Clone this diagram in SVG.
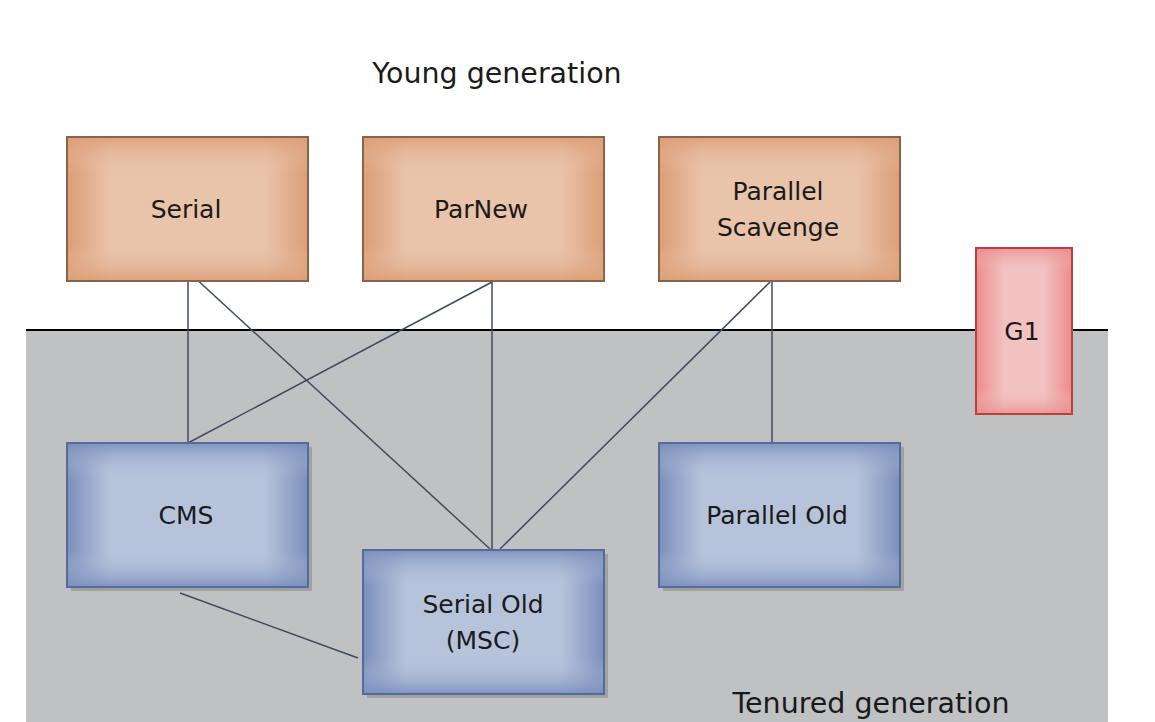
<svg xmlns="http://www.w3.org/2000/svg" width="1155" height="722" viewBox="0 0 1155 722">
<defs>
<linearGradient id="oh" x1="0" y1="0" x2="1" y2="0"><stop offset="0" stop-color="#dc9d76"/><stop offset="0.18" stop-color="#e9c3aa"/><stop offset="0.82" stop-color="#e9c3aa"/><stop offset="1" stop-color="#dc9d76"/></linearGradient>
<linearGradient id="ov" x1="0" y1="0" x2="0" y2="1"><stop offset="0" stop-color="#dc9d76" stop-opacity="0.9"/><stop offset="0.25" stop-color="#e9c3aa" stop-opacity="0"/><stop offset="0.75" stop-color="#e9c3aa" stop-opacity="0"/><stop offset="1" stop-color="#dc9d76" stop-opacity="0.9"/></linearGradient>
<linearGradient id="bh" x1="0" y1="0" x2="1" y2="0"><stop offset="0" stop-color="#7b8fbc"/><stop offset="0.18" stop-color="#b6c3db"/><stop offset="0.82" stop-color="#b6c3db"/><stop offset="1" stop-color="#7b8fbc"/></linearGradient>
<linearGradient id="bv" x1="0" y1="0" x2="0" y2="1"><stop offset="0" stop-color="#7b8fbc" stop-opacity="0.9"/><stop offset="0.25" stop-color="#b6c3db" stop-opacity="0"/><stop offset="0.75" stop-color="#b6c3db" stop-opacity="0"/><stop offset="1" stop-color="#7b8fbc" stop-opacity="0.9"/></linearGradient>
<linearGradient id="rh" x1="0" y1="0" x2="1" y2="0"><stop offset="0" stop-color="#ec8b8b"/><stop offset="0.3" stop-color="#f2c2c2"/><stop offset="0.7" stop-color="#f2c2c2"/><stop offset="1" stop-color="#ec8b8b"/></linearGradient>
<linearGradient id="rv" x1="0" y1="0" x2="0" y2="1"><stop offset="0" stop-color="#ec8b8b" stop-opacity="0.8"/><stop offset="0.15" stop-color="#f2c2c2" stop-opacity="0"/><stop offset="0.85" stop-color="#f2c2c2" stop-opacity="0"/><stop offset="1" stop-color="#ec8b8b" stop-opacity="0.8"/></linearGradient>
</defs>
<style>
.t{font-family:"DejaVu Sans","Liberation Sans",sans-serif;fill:#1a1a1a;text-anchor:middle}
.n{font-size:25px}
.h{font-size:28.5px}
.ob{stroke:#8a6448;stroke-width:2}
.bb{stroke:#566b97;stroke-width:2}
.rb{stroke:#b8403e;stroke-width:2}
.sh{fill:#8a8c90;opacity:0.6}
.c line{stroke:#3f4a60;stroke-width:1.5}
</style>
<rect x="0" y="0" width="1155" height="722" fill="#ffffff"/>
<rect x="26" y="330" width="1082" height="392" fill="#c0c1c3"/>
<line x1="26" y1="330" x2="1108" y2="330" stroke="#000" stroke-width="2"/>
<text class="t h" x="497" y="83">Young generation</text>
<text class="t h" x="871" y="713">Tenured generation</text>
<g class="c">
<line x1="188" y1="281" x2="188" y2="443"/>
<line x1="193" y1="276" x2="490" y2="549"/>
<line x1="492" y1="282" x2="188" y2="443"/>
<line x1="492" y1="282" x2="492" y2="549"/>
<line x1="772" y1="280" x2="500" y2="549"/>
<line x1="772" y1="280" x2="772" y2="443"/>
<line x1="180" y1="593" x2="358" y2="658"/>
</g>
<g id="serial"><rect x="67" y="137" width="241" height="144" fill="url(#oh)"/><rect x="67" y="137" width="241" height="144" fill="url(#ov)" class="ob"/><text class="t n" x="186" y="218">Serial</text></g>
<g id="parnew"><rect x="363" y="137" width="241" height="144" fill="url(#oh)"/><rect x="363" y="137" width="241" height="144" fill="url(#ov)" class="ob"/><text class="t n" x="481" y="218">ParNew</text></g>
<g id="parallel-scavenge"><rect x="659" y="137" width="241" height="144" fill="url(#oh)"/><rect x="659" y="137" width="241" height="144" fill="url(#ov)" class="ob"/><text class="t n" x="778" y="200">Parallel</text><text class="t n" x="778" y="236">Scavenge</text></g>
<g id="g1"><rect x="976" y="248" width="96" height="166" fill="url(#rh)"/><rect x="976" y="248" width="96" height="166" fill="url(#rv)" class="rb"/><text class="t n" x="1022" y="340">G1</text></g>
<g id="cms"><rect x="71" y="447" width="241" height="144" class="sh"/><rect x="67" y="443" width="241" height="144" fill="url(#bh)"/><rect x="67" y="443" width="241" height="144" fill="url(#bv)" class="bb"/><text class="t n" x="186" y="524">CMS</text></g>
<g id="parallel-old"><rect x="663" y="447" width="241" height="144" class="sh"/><rect x="659" y="443" width="241" height="144" fill="url(#bh)"/><rect x="659" y="443" width="241" height="144" fill="url(#bv)" class="bb"/><text class="t n" x="777" y="524">Parallel Old</text></g>
<g id="serial-old"><rect x="367" y="554" width="241" height="144" class="sh"/><rect x="363" y="550" width="241" height="144" fill="url(#bh)"/><rect x="363" y="550" width="241" height="144" fill="url(#bv)" class="bb"/><text class="t n" x="483" y="613">Serial Old</text><text class="t n" x="483" y="649">(MSC)</text></g>
</svg>
